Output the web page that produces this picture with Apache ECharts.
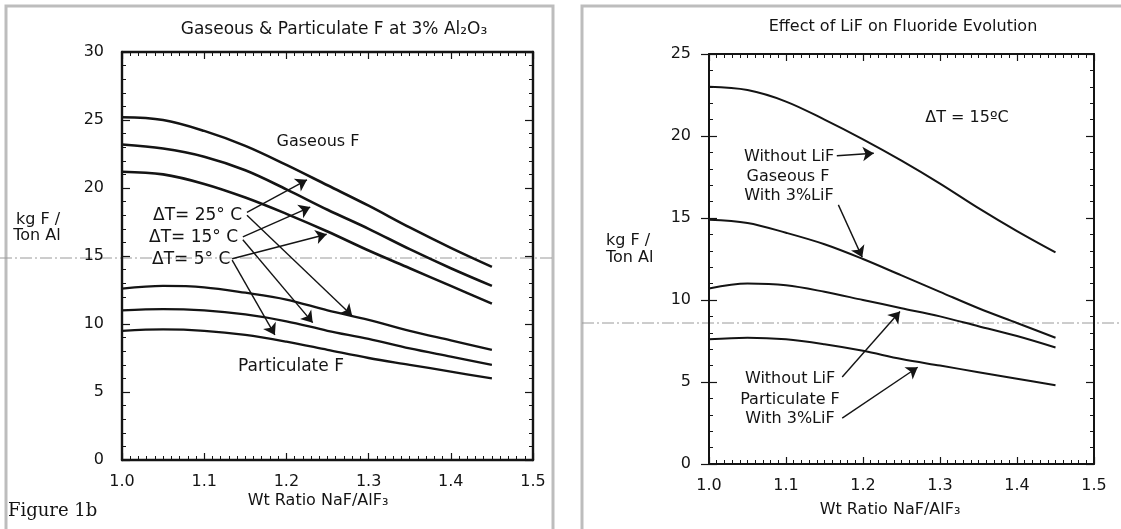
<!DOCTYPE html>
<html>
<head>
<meta charset="utf-8">
<script src="https://cdn.jsdelivr.net/npm/echarts@6/dist/echarts.min.js"></script>
<style>
html,body{margin:0;padding:0;background:#fff;}
#c{width:1121px;height:529px;}
</style>
</head>
<body>
<div id="c"></div>
<script>
// ---------- data ----------
const ratio = [1.0, 1.05, 1.1, 1.15, 1.2, 1.25, 1.3, 1.35, 1.4, 1.45];
// Left panel: Gaseous & Particulate F at 3% Al2O3
const gasDT25 = [25.2, 25.0, 24.2, 23.1, 21.7, 20.2, 18.7, 17.1, 15.6, 14.2];
const gasDT15 = [23.2, 22.9, 22.3, 21.3, 19.9, 18.4, 17.0, 15.5, 14.1, 12.8];
const gasDT5  = [21.2, 21.0, 20.3, 19.3, 18.1, 16.8, 15.4, 14.1, 12.8, 11.5];
const partDT25 = [12.6, 12.8, 12.7, 12.3, 11.8, 11.0, 10.3, 9.5, 8.8, 8.1];
const partDT15 = [11.0, 11.1, 11.0, 10.7, 10.2, 9.5, 8.9, 8.2, 7.6, 7.0];
const partDT5  = [9.5, 9.6, 9.5, 9.2, 8.7, 8.1, 7.5, 7.0, 6.5, 6.0];
// Right panel: Effect of LiF on Fluoride Evolution (dT = 15 C)
const gasNoLiF  = [23.0, 22.8, 22.1, 21.0, 19.8, 18.5, 17.1, 15.6, 14.2, 12.9];
const gasLiF    = [14.9, 14.7, 14.1, 13.4, 12.5, 11.5, 10.5, 9.5, 8.6, 7.7];
const partNoLiF = [10.7, 11.0, 10.9, 10.5, 10.0, 9.5, 9.0, 8.4, 7.8, 7.1];
const partLiF   = [7.6, 7.7, 7.6, 7.3, 6.9, 6.4, 6.0, 5.6, 5.2, 4.8];
// axis ranges / ticks
const xTickLabels = ['1.0', '1.1', '1.2', '1.3', '1.4', '1.5'];
const leftYMax = 30, rightYMax = 25;
// annotation arrows (data coordinates: [fromX, fromY, toX, toY])
const leftArrows = [
  [1.152, 18.2, 1.225, 20.6],
  [1.152, 18.0, 1.280, 10.6],
  [1.147, 16.4, 1.229, 18.6],
  [1.147, 16.2, 1.232, 10.1],
  [1.134, 14.8, 1.249, 16.6],
  [1.134, 14.7, 1.186, 9.2]
];
const rightArrows = [
  [1.166, 18.8, 1.214, 18.95],
  [1.168, 15.8, 1.199, 12.6],
  [1.173, 5.3, 1.248, 9.3],
  [1.173, 2.8, 1.271, 5.9]
];

// ---------- chart ----------
const FONT = '"DejaVu Sans", "Liberation Sans", Arial, sans-serif';
const INK = '#141414';
const pts = arr => ratio.map((x, i) => [x, arr[i]]);
const arrowData = list => list.map(a => [
  { coord: [a[0], a[1]], symbol: 'none' },
  { coord: [a[2], a[3]], symbol: 'arrow' }
]);

function xAx(grid, pos, labels, lw) {
  return {
    type: 'value', gridIndex: grid, position: pos, min: 1.0, max: 1.5, interval: 0.1,
    axisLine: { show: true, onZero: false, lineStyle: { color: INK, width: lw } },
    axisTick: { show: true, inside: true, length: 7, lineStyle: { color: INK, width: 1.2 } },
    minorTick: { show: true, splitNumber: 10, length: 4, lineStyle: { color: INK, width: 1 } },
    splitLine: { show: false },
    axisLabel: labels ? {
      show: true, margin: 14, fontSize: 16, color: INK, fontFamily: FONT,
      formatter: v => xTickLabels[Math.round((v - 1) * 10)]
    } : { show: false }
  };
}
function yAx(grid, pos, max, labels, lw, inside) {
  return {
    type: 'value', gridIndex: grid, position: pos, min: 0, max: max, interval: 5,
    axisLine: { show: lw > 0, onZero: false, lineStyle: { color: INK, width: lw || 1 } },
    axisTick: { show: true, inside: inside, length: 8, lineStyle: { color: INK, width: 1.2 } },
    minorTick: { show: inside, splitNumber: 5, length: 4, lineStyle: { color: INK, width: 1 } },
    splitLine: { show: false },
    axisLabel: labels ? { show: true, margin: 18, fontSize: 16, color: INK, fontFamily: FONT } : { show: false }
  };
}
function line(xi, yi, arr, w, arrows) {
  const s = {
    type: 'line', xAxisIndex: xi, yAxisIndex: yi, data: pts(arr), smooth: 0.35,
    symbol: 'none', lineStyle: { color: INK, width: w }, silent: true, animation: false
  };
  if (arrows) {
    s.markLine = {
      silent: true, animation: false, symbolSize: 11,
      lineStyle: { color: INK, width: 1.4, type: 'solid' },
      label: { show: false },
      data: arrowData(arrows)
    };
  }
  return s;
}
function txt(x, y, text, size, align, family) {
  return {
    type: 'text', x: x, y: y, silent: true,
    style: {
      text: text, fill: INK, font: (size || 16) + 'px ' + (family || FONT),
      textAlign: align || 'center', textVerticalAlign: 'middle',
      align: align || 'center', verticalAlign: 'middle'
    }
  };
}

const chart = echarts.init(document.getElementById('c'), null, { renderer: 'canvas' });
chart.setOption({
  backgroundColor: '#fff',
  animation: false,
  grid: [
    { left: 122, top: 52, width: 411, height: 408 },
    { left: 709, top: 54, width: 385, height: 410 }
  ],
  xAxis: [
    xAx(0, 'bottom', true, 2.4),
    xAx(0, 'top', false, 2.4),
    xAx(1, 'bottom', true, 2),
    xAx(1, 'top', false, 2)
  ],
  yAxis: [
    yAx(0, 'left', leftYMax, true, 2.4, true),
    yAx(0, 'right', leftYMax, false, 2.4, true),
    yAx(1, 'left', rightYMax, true, 2, true),
    yAx(1, 'right', rightYMax, false, 2, true),
    yAx(1, 'left', rightYMax, false, 0, false)
  ],
  series: [
    line(0, 0, gasDT25, 2.6, leftArrows),
    line(0, 0, gasDT15, 2.6),
    line(0, 0, gasDT5, 2.6),
    line(0, 0, partDT25, 2.3),
    line(0, 0, partDT15, 2.3),
    line(0, 0, partDT5, 2.3),
    line(2, 2, gasNoLiF, 2, rightArrows),
    line(2, 2, gasLiF, 2),
    line(2, 2, partNoLiF, 2),
    line(2, 2, partLiF, 2)
  ],
  graphic: [
    // panel borders
    { type: 'rect', silent: true, z: -1, shape: { x: 6, y: 6, width: 547, height: 540 },
      style: { fill: 'none', stroke: '#bdbdbd', lineWidth: 3 } },
    { type: 'rect', silent: true, z: -1, shape: { x: 582, y: 6, width: 560, height: 540 },
      style: { fill: 'none', stroke: '#bdbdbd', lineWidth: 3 } },
    // scan fold lines
    { type: 'line', silent: true, shape: { x1: 0, y1: 258, x2: 553, y2: 258 },
      style: { stroke: '#9a9a9a', lineWidth: 1, lineDash: [12, 3, 2, 3] } },
    { type: 'line', silent: true, shape: { x1: 582, y1: 323, x2: 1121, y2: 323 },
      style: { stroke: '#9a9a9a', lineWidth: 1, lineDash: [12, 3, 2, 3] } },
    // left panel texts
    txt(334, 30, 'Gaseous & Particulate F at 3% Al\u2082O\u2083', 17),
    txt(318, 142, 'Gaseous F', 16),
    txt(291, 367, 'Particulate F', 17),
    txt(153, 216, '\u0394T= 25\u00B0 C', 17, 'left'),
    txt(149, 238, '\u0394T= 15\u00B0 C', 17, 'left'),
    txt(152, 260, '\u0394T= 5\u00B0 C', 17, 'left'),
    txt(38, 220, 'kg F /', 16),
    txt(37, 236, 'Ton Al', 16),
    txt(318, 501, 'Wt Ratio NaF/AlF\u2083', 16),
    txt(8, 511, 'Figure 1b', 18, 'left', '"DejaVu Serif", "Liberation Serif", serif'),
    // right panel texts
    txt(903, 27, 'Effect of LiF on Fluoride Evolution', 16),
    txt(967, 118, '\u0394T = 15\u00BAC', 16),
    txt(789, 157, 'Without LiF', 16),
    txt(788, 177, 'Gaseous F', 16),
    txt(789, 196, 'With 3%LiF', 16),
    txt(790, 379, 'Without LiF', 16),
    txt(790, 400, 'Particulate F', 16),
    txt(790, 419, 'With 3%LiF', 16),
    txt(606, 241, 'kg F /', 16, 'left'),
    txt(606, 258, 'Ton Al', 16, 'left'),
    txt(890, 510, 'Wt Ratio NaF/AlF\u2083', 16)
  ]
});
</script>
</body>
</html>
